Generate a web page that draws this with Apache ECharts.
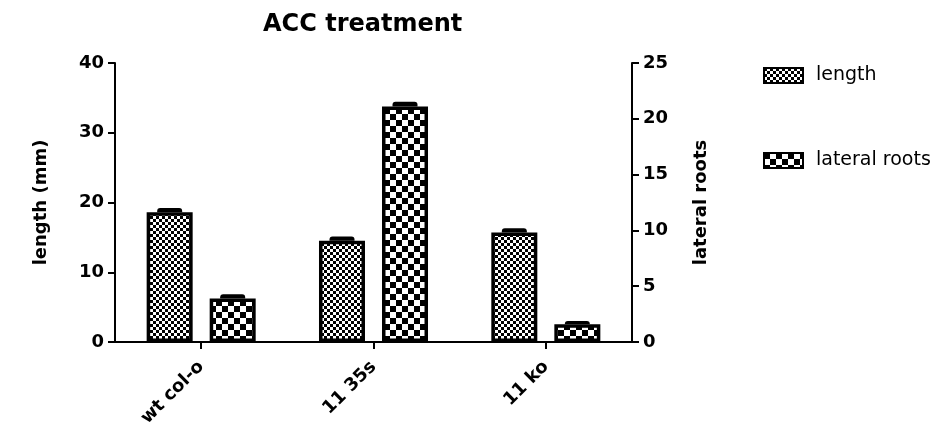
<!DOCTYPE html>
<html>
<head>
<meta charset="utf-8">
<script src="https://cdn.jsdelivr.net/npm/echarts@6/dist/echarts.min.js"></script>
<style>html,body{margin:0;padding:0;background:#fff;}#c{width:951px;height:432px;}</style>
</head>
<body>
<div id="c"></div>
<script>
const categories = ['wt col-o', '11 35s', '11 ko'];
const lengthMean = [18.6, 14.5, 15.7];
const lengthErr = [0.4, 0.4, 0.4];
const lateralMean = [3.9, 21.1, 1.6];
const lateralErr = [0.25, 0.3, 0.15];
const leftTicks = { min: 0, max: 40, interval: 10 };
const rightTicks = { min: 0, max: 25, interval: 5 };

function checker(cell) {
  const c = document.createElement('canvas');
  c.width = cell * 2; c.height = cell * 2;
  const g = c.getContext('2d');
  g.fillStyle = '#fff'; g.fillRect(0, 0, c.width, c.height);
  g.fillStyle = '#000';
  g.fillRect(0, 0, cell, cell);
  g.fillRect(cell, cell, cell, cell);
  return { image: c, repeat: 'repeat' };
}
const fineFill = checker(3);
const coarseFill = checker(6);

const FONT = 'DejaVu Sans';
function errItem(offset) {
  return function (params, api) {
    const x = api.value(0), y = api.value(1), e = api.value(2);
    const base = api.coord([x, y]);
    const top = api.coord([x, y + e]);
    const cx = base[0] + offset;
    const yTop = top[1] - 1.5;
    return {
      type: 'rect',
      shape: { x: cx - 12.5, y: yTop, width: 25, height: base[1] - yTop, r: [3, 3, 0, 0] },
      style: { fill: '#000' }
    };
  };
}

const chart = echarts.init(document.getElementById('c'), null, { renderer: 'canvas' });
const axisCommon = {
  axisLine: { show: true, lineStyle: { color: '#000', width: 2 } },
  axisTick: { show: true, inside: false, length: 7, lineStyle: { color: '#000', width: 2 } },
  axisLabel: { color: '#000', fontFamily: FONT, fontWeight: 'bold', fontSize: 18, margin: 11 },
  splitLine: { show: false },
  nameLocation: 'middle',
  nameRotate: 90,
  nameTextStyle: { color: '#000', fontFamily: FONT, fontWeight: 'bold', fontSize: 18 }
};
chart.setOption({
  animation: false,
  backgroundColor: '#fff',
  title: {
    text: 'ACC treatment', left: 258, top: 8,
    textStyle: { color: '#000', fontFamily: FONT, fontWeight: 'bold', fontSize: 24 }
  },
  legend: {
    orient: 'vertical', left: 758, top: 61,
    itemWidth: 39, itemHeight: 15, itemGap: 66, icon: 'rect',
    textStyle: { color: '#000', fontFamily: FONT, fontSize: 19, padding: [0, 0, 0, 8] },
    data: ['length', 'lateral roots']
  },
  grid: { left: 115, right: 319, top: 63, bottom: 90, containLabel: false },
  xAxis: {
    type: 'category', data: categories,
    axisLine: { show: true, lineStyle: { color: '#000', width: 2 } },
    axisTick: { show: true, alignWithLabel: true, length: 7, lineStyle: { color: '#000', width: 2 } },
    axisLabel: { color: '#000', fontFamily: FONT, fontWeight: 'bold', fontSize: 18, rotate: 45, margin: 22, interval: 0 }
  },
  yAxis: [
    Object.assign({}, axisCommon, { type: 'value', position: 'left', name: 'length (mm)', nameGap: 65,
      min: leftTicks.min, max: leftTicks.max, interval: leftTicks.interval }),
    Object.assign({}, axisCommon, { type: 'value', position: 'right', name: 'lateral roots', nameGap: 60,
      min: rightTicks.min, max: rightTicks.max, interval: rightTicks.interval })
  ],
  series: [
    { name: 'length', type: 'bar', yAxisIndex: 0, data: lengthMean, barWidth: 46, barGap: '37%',
      itemStyle: { color: fineFill, borderColor: '#000', borderWidth: 3.5 } },
    { name: 'lateral roots', type: 'bar', yAxisIndex: 1, data: lateralMean, barWidth: 46, barGap: '37%',
      itemStyle: { color: coarseFill, borderColor: '#000', borderWidth: 3.5 } },
    { type: 'custom', yAxisIndex: 0, z: 5, renderItem: errItem(-31.5),
      data: lengthMean.map((v, i) => [i, v, lengthErr[i]]) },
    { type: 'custom', yAxisIndex: 1, z: 5, renderItem: errItem(31.5),
      data: lateralMean.map((v, i) => [i, v, lateralErr[i]]) }
  ]
});
</script>
</body>
</html>
